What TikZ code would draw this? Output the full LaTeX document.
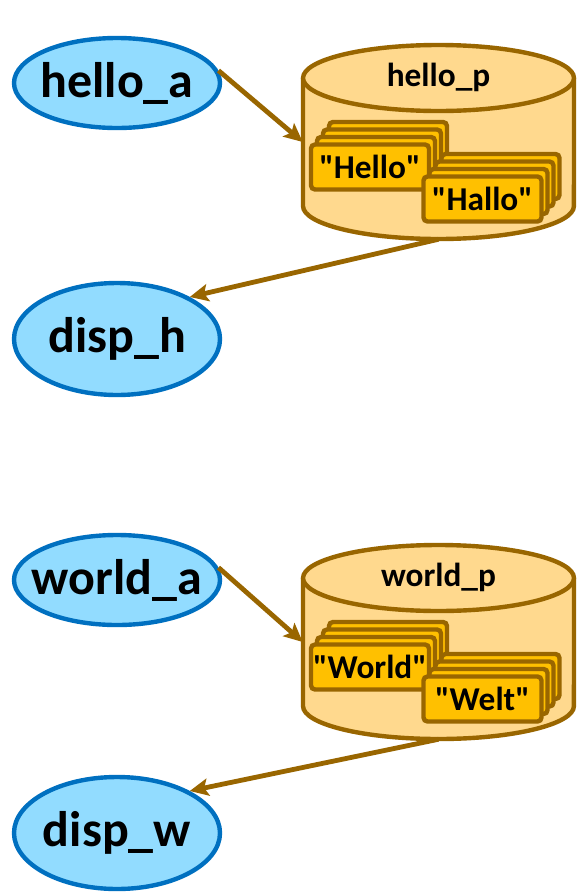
\documentclass[tikz,border=0pt]{standalone}
\usepackage{fontspec}
\setmainfont{Carlito}
\newfontfamily\cardfont{Carlito}
\usetikzlibrary{positioning}
\usetikzlibrary{arrows.meta,shapes.geometric}
\definecolor{procfill}{RGB}{146,220,255}
\definecolor{procline}{RGB}{0,112,192}
\definecolor{poolfill}{RGB}{255,217,142}
\definecolor{poolline}{RGB}{153,102,0}
\definecolor{msgfill}{RGB}{255,192,0}
\def\poolrx{101.6pt}
\def\poolry{24.75pt}

\begin{document}
\begin{tikzpicture}[x=0.75pt,y=-0.75pt,
  proc/.style={ellipse,draw=procline,fill=procfill,line width=3.3pt,inner sep=0pt,
    minimum width=154.5pt,font=\fontsize{37.5}{40}\selectfont\bfseries},
  actor/.style={proc,minimum height=67.5pt},
  disp/.style={proc,minimum height=84pt},
  msg/.style={rectangle,rounded corners=3pt,draw=poolline,fill=msgfill,line width=3.3pt,
    minimum width=88.5pt,minimum height=33.75pt,inner sep=0pt,
    font=\cardfont\fontsize{25}{27}\selectfont\bfseries},
  pool/.style={rectangle,minimum width=203.25pt,minimum height=145.5pt,inner sep=0pt},
  poollabel/.style={font=\fontsize{25}{27}\selectfont\bfseries},
  link/.style={draw=poolline,line width=3.6pt,-{Stealth[length=14pt,width=13pt,inset=3pt]}}]

\useasboundingbox (0,0) rectangle (577,893);

\foreach \n/\t/\ca/\cb/\ya/\p/\yd in {hello/h/Hello/Hallo/83/0/339, world/w/World/Welt/580/500/833} {

  % actor and display
  \node[actor] (\n_a) at (117,\ya) {\makebox[0pt]{\n\_a}};
  \node[disp] (disp_\t) at (117,\yd) {\makebox[0pt]{disp\_\t}};

  % the pool cylinder
  \fill[poolfill] (303,78+\p) -- (303,206+\p)
    arc[start angle=180,end angle=360,x radius=\poolrx,y radius=\poolry] -- (574,78+\p) -- cycle;
  \draw[poolline,line width=3.3pt] (303,78+\p) -- (303,206+\p)
    arc[start angle=180,end angle=360,x radius=\poolrx,y radius=\poolry] -- (574,78+\p);
  \draw[poolline,fill=poolfill,line width=3.3pt] (438.5,78+\p) ellipse[x radius=\poolrx,y radius=\poolry];
  \node[pool] (\n_p) at (438.5,142+\p) {};
  \node[poollabel] (\n_pl) at (438.5,77+\p) {\n\_p};

  % message stacks
  \foreach \k in {3,2,1} {
    \node[msg] (\n_c1s\k) at (370+6*\k,167+\p-7.5*\k) {};
  }
  \node[msg] (\n_c1) at (370,167+\p) {"\ca"};
  \foreach \k in {3,2,1} {
    \node[msg] (\n_c2s\k) at (482.5+6*\k,199+\p-7.5*\k) {};
  }
  \node[msg] (\n_c2) at (482.5,199+\p) {"\cb"};

  \draw[link] (\n_a.7) -- (\n_p.west);
  \draw[link] (\n_p.south) -- (disp_\t.30);
}
\end{tikzpicture}
\end{document}
